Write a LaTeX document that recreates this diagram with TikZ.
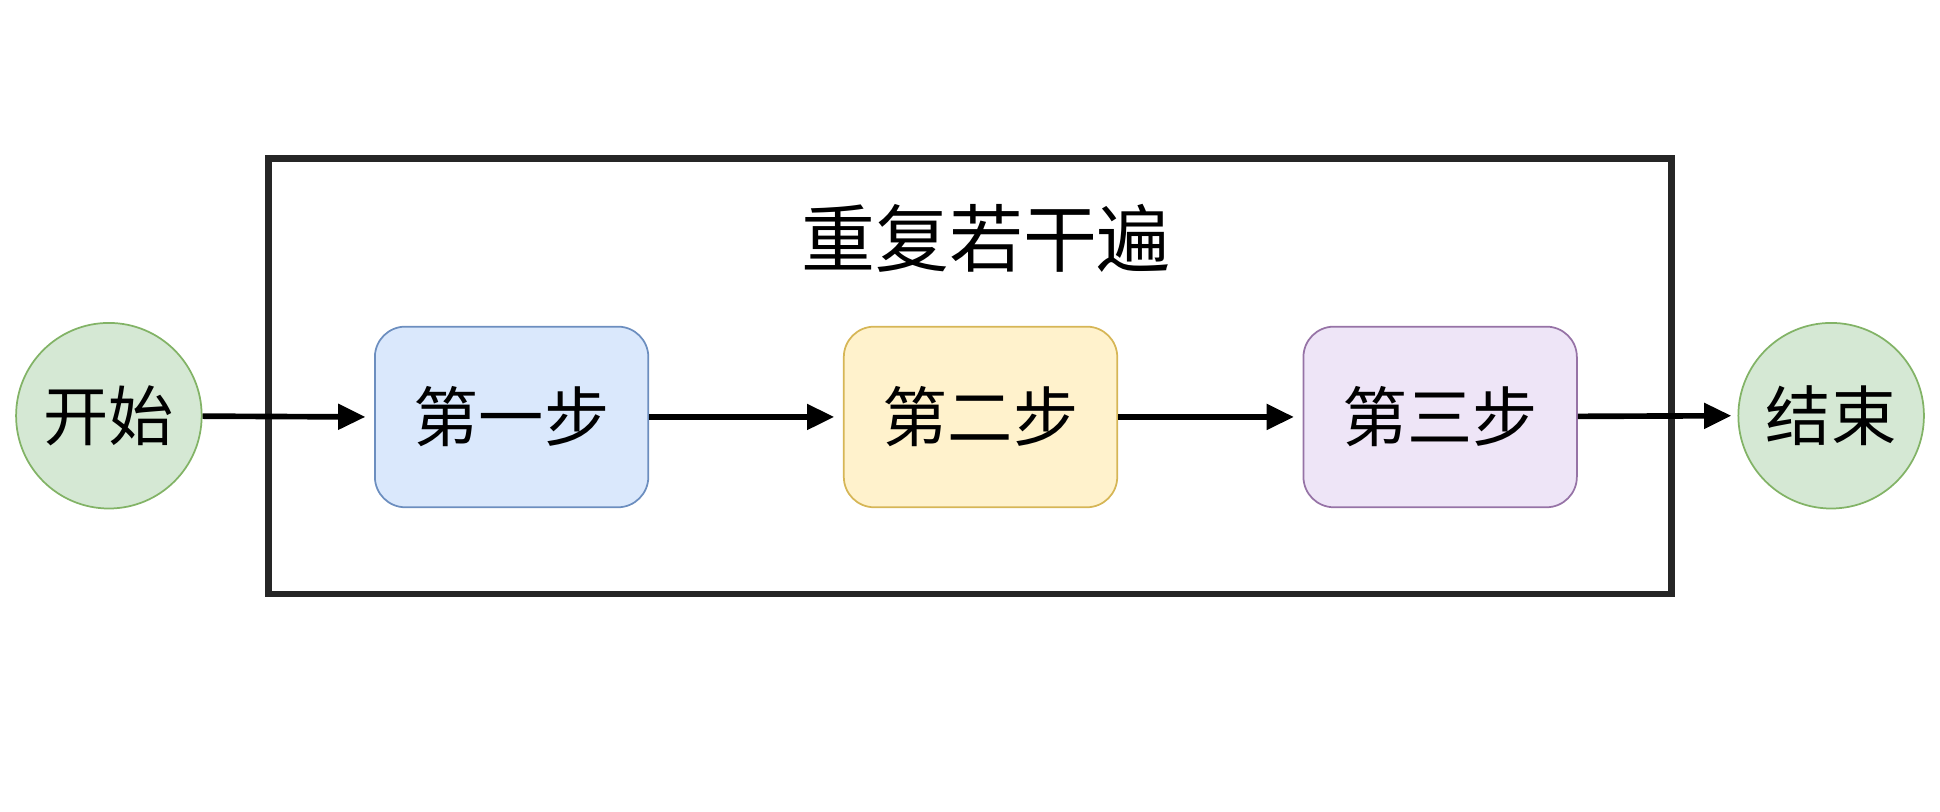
\documentclass[tikz,border=0pt]{standalone}
\usepackage{fontspec}
\setmainfont{Noto Sans CJK SC}
\usetikzlibrary{arrows.meta, positioning, calc}
\definecolor{stepBlue}{HTML}{DAE8FC}
\definecolor{stepBlueLine}{HTML}{6C8EBF}
\definecolor{stepYellow}{HTML}{FFF2CC}
\definecolor{stepYellowLine}{HTML}{D6B656}
\definecolor{stepPurple}{HTML}{EEE5F7}
\definecolor{stepPurpleLine}{HTML}{9673A6}
\definecolor{endGreen}{HTML}{D5E8D4}
\definecolor{endGreenLine}{HTML}{82B366}
\tikzset{
  stepbox/.style={draw, rounded corners=7pt, minimum width=2.21cm, minimum height=1.46cm, font=\fontsize{15}{15}\selectfont},
  terminal/.style={circle, draw=endGreenLine, fill=endGreen, minimum size=1.5cm, inner sep=0pt, font=\fontsize{15}{15}\selectfont},
  flow/.style={-{Triangle[length=0.22cm, width=0.2cm]}, line width=1.3pt, black},
}
\begin{document}
\begin{tikzpicture}
  \useasboundingbox (0,0) rectangle (15.68,-6.555);
  % outer loop frame
  \draw[line width=1.5pt, black!85] (2.17,-1.28) rectangle (13.51,-4.80);
  \node (title) at (7.97,-1.93) {\fontsize{17}{17}\selectfont 重复若干遍};
  \node[terminal] (start) at (0.88,-3.36) {开始};
  \node[stepbox, fill=stepBlue, draw=stepBlueLine] (s1) at (4.135,-3.37) {第一步};
  \node[stepbox, fill=stepYellow, draw=stepYellowLine] (s2) at (7.925,-3.37) {第二步};
  \node[stepbox, fill=stepPurple, draw=stepPurpleLine] (s3) at (11.64,-3.37) {第三步};
  \node[terminal] (stop) at (14.80,-3.36) {结束};
  % connectors
  \draw[flow] (start) -- ($(s1.west)+(-0.07,0)$);
  \draw[flow] (s1) -- ($(s2.west)+(-0.07,0)$);
  \draw[flow] (s2) -- ($(s3.west)+(-0.07,0)$);
  \draw[flow] (s3) -- ($(stop.west)+(-0.05,0)$);
\end{tikzpicture}
\end{document}
